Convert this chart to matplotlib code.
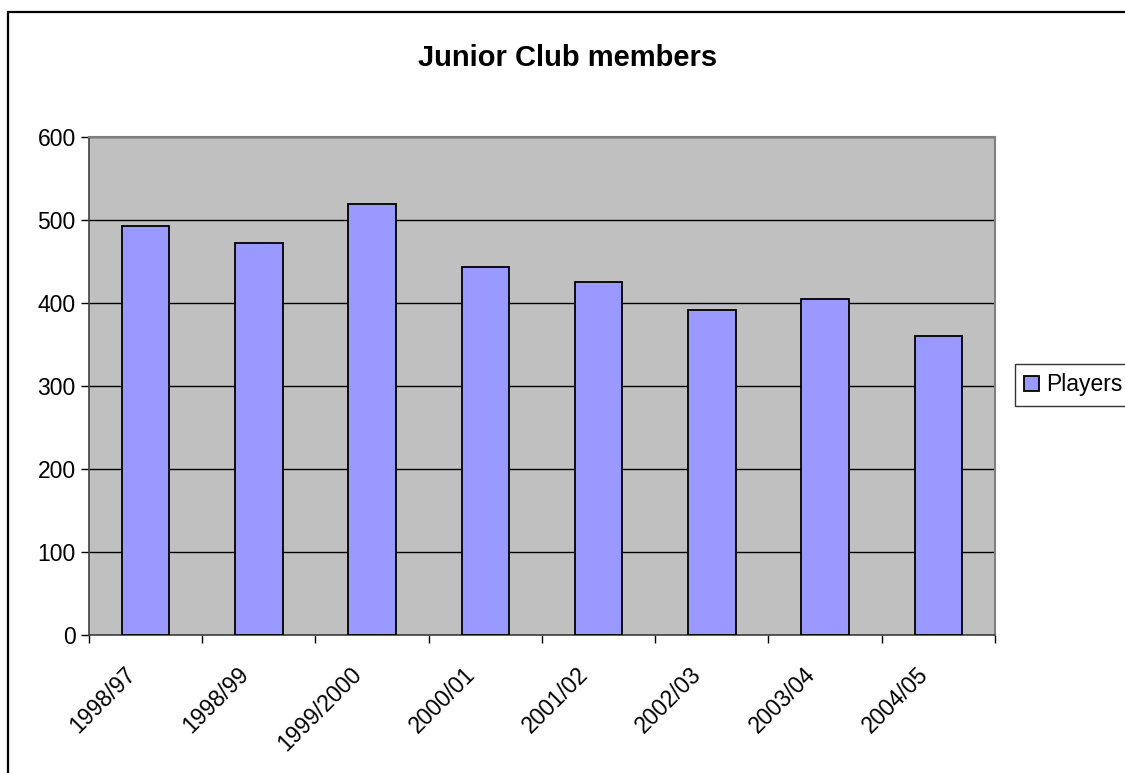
import numpy as np
import matplotlib
matplotlib.use('Agg')
import matplotlib.pyplot as plt
import matplotlib.transforms as mtransforms
from matplotlib.patches import Rectangle

seasons = ["1998/97", "1998/99", "1999/2000", "2000/01", "2001/02",
           "2002/03", "2003/04", "2004/05"]
players = [493, 472, 519, 443, 425, 392, 405, 360]

plt.rcParams['font.family'] = ['Liberation Sans', 'DejaVu Sans']

fig = plt.figure(figsize=(11.25, 7.73), dpi=100)
ax = fig.add_axes([0.0791, 0.1785, 0.8053, 0.6443])

x = np.arange(len(seasons))
ax.set_facecolor('#C0C0C0')
ax.bar(x, players, width=0.42, color='#9999FF', edgecolor='black',
       linewidth=1.3, label='Players', zorder=3)

ax.set_xlim(-0.5, len(seasons) - 0.5)
ax.set_ylim(0, 600)
ax.set_yticks(range(0, 601, 100))
ax.yaxis.grid(True, color='black', linewidth=1.0, zorder=1)
ax.set_axisbelow(True)

ax.set_xticks(x)
ax.set_xticklabels(seasons, rotation=45, ha='right', rotation_mode='anchor')
ax.set_xticks(np.arange(-0.5, len(seasons)), minor=True)
ax.tick_params(axis='x', which='major', length=0, pad=20, labelsize=16.5)
ax.tick_params(axis='x', which='minor', length=6, width=1, direction='out')
ax.tick_params(axis='y', length=6, width=1, labelsize=16.5, pad=3.5)

shift = mtransforms.ScaledTranslation(-22 / 100, 0, fig.dpi_scale_trans)
for lbl in ax.get_xticklabels():
    lbl.set_transform(lbl.get_transform() + shift)

for side in ['top', 'right']:
    ax.spines[side].set_color('#808080')
    ax.spines[side].set_linewidth(1.5)
for side in ['left', 'bottom']:
    ax.spines[side].set_color('#404040')
    ax.spines[side].set_linewidth(1.2)

fig.text(0.5044, 0.925, 'Junior Club members', ha='center', va='center',
         fontsize=21, fontweight='bold')

leg = fig.legend(loc='center left', bbox_to_anchor=(1015 / 1125, 1 - 385 / 773),
                 fontsize=16.5, frameon=True, fancybox=False, edgecolor='black',
                 handlelength=0.65, handleheight=0.65, handletextpad=0.3,
                 borderpad=0.4, borderaxespad=0)
leg.get_frame().set_linewidth(1.0)

# outer chart border
fig.patches.append(Rectangle((8 / 1125, -0.05), 1.2, 1 - 12 / 773 + 0.05,
                             transform=fig.transFigure, fill=False,
                             edgecolor='black', linewidth=1.6))

fig.savefig('out.png', dpi=100)
plt.close(fig)
